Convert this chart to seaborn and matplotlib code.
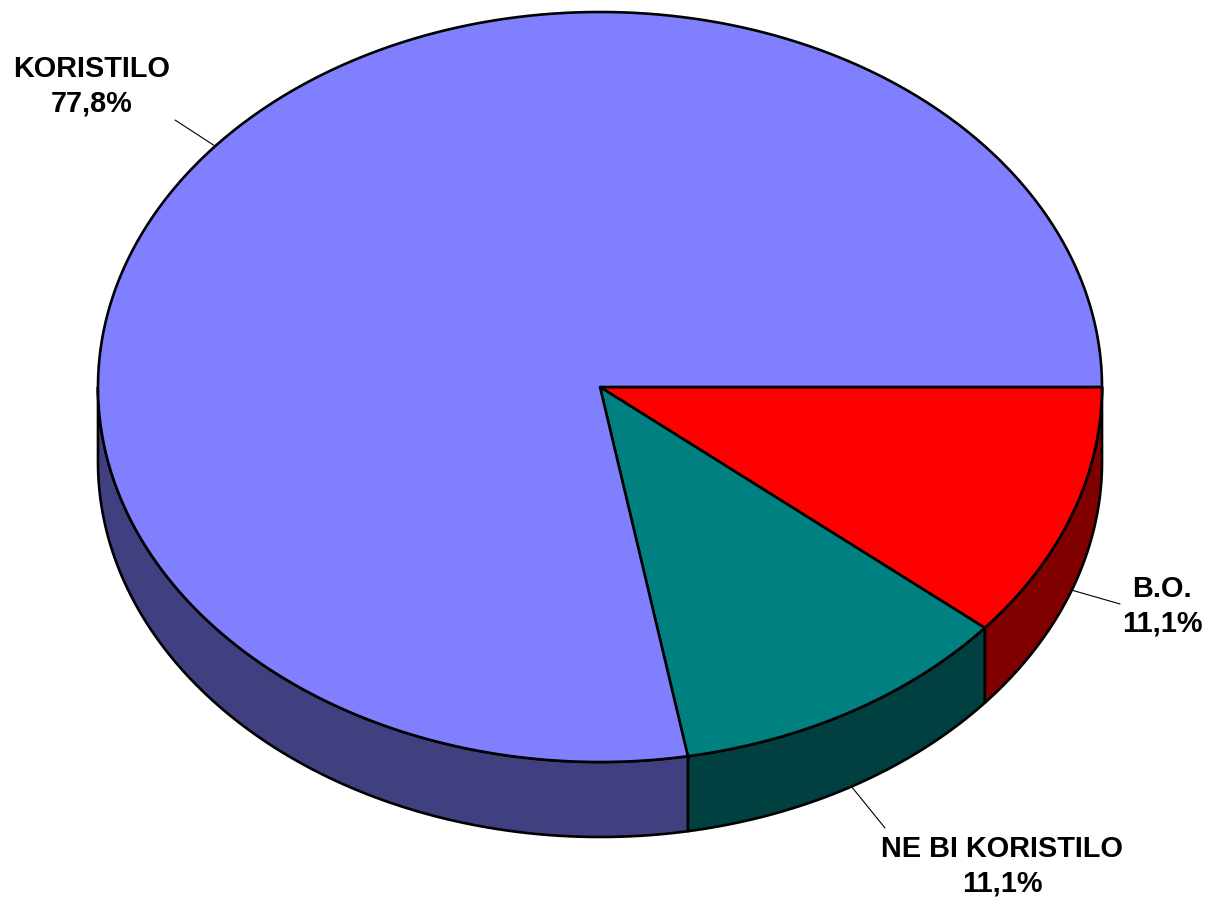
import numpy as np
import matplotlib
matplotlib.use("Agg")
import matplotlib.pyplot as plt
from matplotlib.patches import Polygon
import seaborn as sns

# ---- data ----
categories = ["B.O.", "NE BI KORISTILO", "KORISTILO"]
values = [11.1, 11.1, 77.8]
value_labels = ["11,1%", "11,1%", "77,8%"]
top_colors = ["#FF0000", "#008080", "#8080FF"]
side_colors = ["#800000", "#004040", "#404080"]

sns.set_theme(style="white")
plt.rcParams["font.family"] = ["Liberation Sans", "DejaVu Sans"]

fig = plt.figure(figsize=(12.07, 8.98), dpi=100)
ax = fig.add_axes([0, 0, 1, 1])
ax.set_xlim(0, 1207)
ax.set_ylim(898, 0)
ax.axis("off")

# layout of the 3D pie (screen units)
cx, cy, rx, ry, depth = 600.0, 387.0, 502.0, 375.0, 75.0

fr = np.array(values) / np.sum(values)
starts = np.concatenate([[0.0], np.cumsum(fr)[:-1]]) * 360.0
ends = np.cumsum(fr) * 360.0

def pt(t, dz=0.0):
    r = np.radians(t)
    return cx + rx * np.cos(r), cy + ry * np.sin(r) + dz

# side walls (front half: 0..180 deg, screen angle increases clockwise)
for a0, a1, sc in zip(starts, ends, side_colors):
    lo, hi = max(a0, 0.0), min(a1, 180.0)
    if hi <= lo:
        continue
    ts = np.linspace(lo, hi, 200)
    top = [pt(t) for t in ts]
    bot = [pt(t, depth) for t in ts[::-1]]
    ax.add_patch(Polygon(top + bot, closed=True, facecolor=sc,
                         edgecolor="black", linewidth=1.9, joinstyle="round"))

# top faces
for a0, a1, tc in zip(starts, ends, top_colors):
    ts = np.linspace(a0, a1, 400)
    verts = [(cx, cy)] + [pt(t) for t in ts]
    ax.add_patch(Polygon(verts, closed=True, facecolor=tc,
                         edgecolor="black", linewidth=1.9, joinstyle="round"))

# labels with leader lines
label_pos = [(1162, 597), (1002, 857), (92, 77)]
line_end = [(1120, 604), (885, 828), (175, 120)]
for i, (cat, vl) in enumerate(zip(categories, value_labels)):
    mid = (starts[i] + ends[i]) / 2.0
    front = 0 <= (mid % 360) <= 180
    sx, sy = pt(mid, depth if front else 0.0)
    ex, ey = line_end[i]
    ax.plot([sx, ex], [sy, ey], color="black", linewidth=0.8)
    lx, ly = label_pos[i]
    ax.text(lx, ly, cat, ha="center", va="baseline", fontsize=20.8,
            fontweight="bold", color="black")
    ax.text(lx, ly + 35, vl, ha="center", va="baseline", fontsize=20.8,
            fontweight="bold", color="black")

fig.savefig("out.png", dpi=100, facecolor="white")
